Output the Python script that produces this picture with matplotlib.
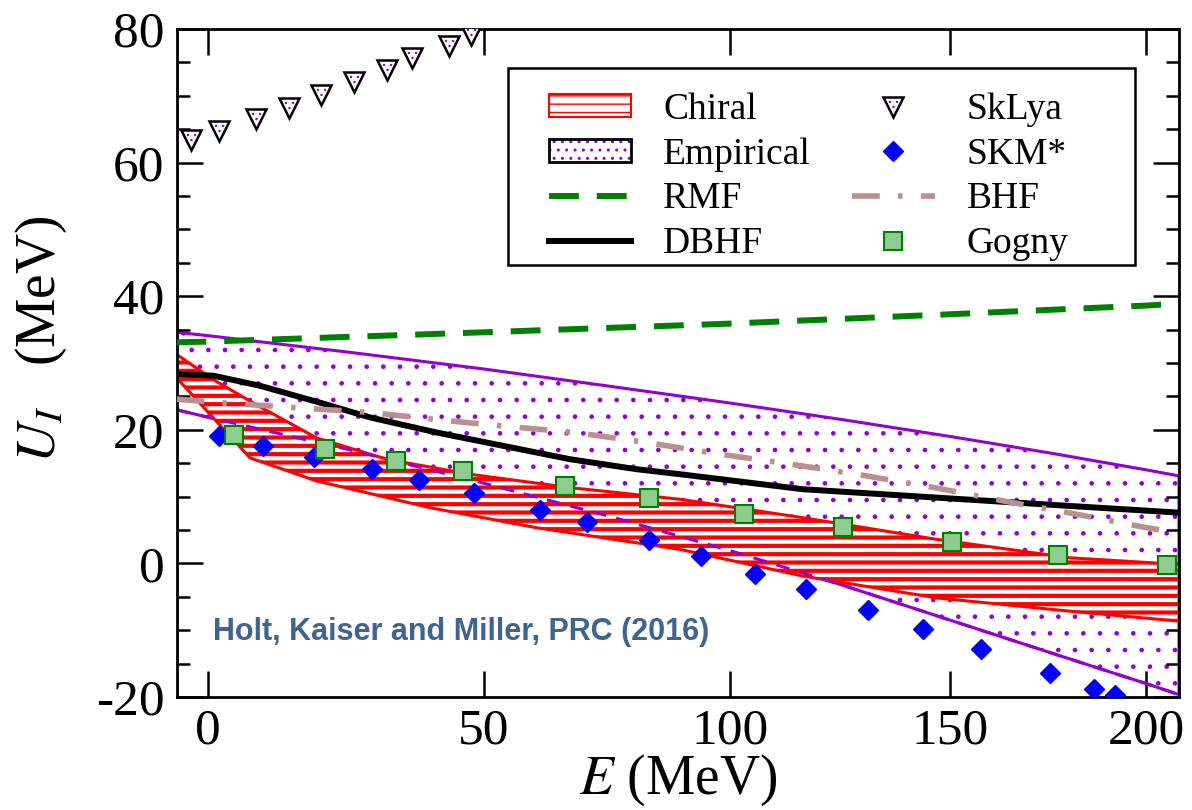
import numpy as np
import matplotlib
matplotlib.use('Agg')
import matplotlib.pyplot as plt
from matplotlib.path import Path
from matplotlib.lines import Line2D
from matplotlib.patches import Patch, Rectangle
from matplotlib.ticker import FixedLocator, MultipleLocator, NullLocator

plt.rcParams['font.family'] = ['Liberation Serif', 'DejaVu Serif']
plt.rcParams['mathtext.fontset'] = 'stix'
plt.rcParams['axes.unicode_minus'] = False

# ---- data (E in MeV, U_I in MeV) ----
emp_E = [-5.3, 0, 25, 50, 75, 100, 125, 150, 175, 200, 208.9]
emp_hi = [34.6, 34.1, 31.6, 29.1, 26.5, 24.0, 21.5, 19.0, 16.5, 14.0, 13.1]
emp_lo = [23.0, 21.9, 17.0, 12.0, 7.0, 1.9, -3.3, -8.5, -13.4, -18.0, -19.65]

chi_hi_E = [-5.3, 1.0, 7.9, 19.0, 31.7, 47.3, 66.8, 89.3, 115.9, 146.7, 179.8, 208.9]
chi_hi = [31.3, 27.5, 24.0, 18.8, 15.6, 13.35, 11.35, 9.6, 6.84, 3.6, 0.84, -0.15]
chi_lo_E = [-5.3, 7.3, 19.0, 39.8, 60.2, 89.3, 115.9, 146.7, 179.8, 208.9]
chi_lo = [27.8, 15.8, 12.35, 8.34, 5.34, 2.1, -1.9, -5.16, -7.15, -8.65]

rmf_E = [-5.3, 0, 50, 100, 150, 200, 208.9]
rmf_U = [33.1, 33.2, 34.6, 35.9, 37.3, 38.6, 38.9]

dbhf_E = [-5.3, 1.0, 9.0, 19.5, 28.7, 41.0, 53.7, 66.8, 80.3, 89.3, 115.9, 146.7, 179.8, 208.9]
dbhf_U = [28.35, 28.1, 26.6, 24.1, 21.85, 19.6, 17.6, 15.6, 14.1, 13.35, 11.1, 9.85, 8.6, 7.6]

bhf_E = [-5.3, 1.3, 13.8, 28.7, 40.2, 53.1, 67.8, 82.3, 97.3, 112.8, 129.3, 145.8, 163.0, 180.7, 199.6, 203.7]
bhf_U = [24.6, 24.1, 23.4, 22.6, 21.6, 20.6, 19.6, 18.1, 16.4, 14.9, 13.2, 11.4, 9.35, 7.45, 5.4, 5.0]

sklya_E = [-2.9, 2.0, 8.3, 14.1, 19.9, 25.8, 31.8, 36.5, 43.3, 47.5]
sklya_U = [63.4, 64.8, 66.6, 68.1, 70.1, 72.1, 73.9, 75.7, 77.5, 79.1]

skm_E = [1.9, 9.6, 18.6, 29.1, 37.8, 48.1, 60.9, 70.3, 82.9, 93.7, 105.4, 116.6,
         130.7, 143.4, 157.5, 174.8, 186.1, 191.7]
skm_U = [19.1, 17.6, 15.9, 14.1, 12.5, 10.5, 8.0, 6.15, 3.45, 1.1, -1.6, -3.9,
         -7.0, -9.8, -12.75, -16.4, -18.75, -19.65]

gogny_E = [4.5, 20.6, 33.5, 46.1, 65.9, 82.9, 103.0, 124.8, 150.4, 176.7, 205.7]
gogny_U = [19.2, 17.1, 15.3, 13.8, 11.6, 9.75, 7.45, 5.5, 3.25, 1.25, -0.25]

x_ticks = [0, 50, 100, 150, 200]

# the energy axis of the original is compressed towards high E
k = 0.002286
def fwd(e):
    return 1 - np.exp(-k * np.asarray(e, float))
def inv(u):
    return -np.log(np.clip(1 - np.asarray(u, float), 1e-9, None)) / k

purple = '#9400d3'
green = '#008000'
rosy = '#bc8f8f'
gface = '#8fcc8f'

fig = plt.figure(figsize=(11.92, 8.10), dpi=100)
ax = fig.add_axes([0.1485, 0.1395, 0.8406, 0.8247])
ax.set_xscale('function', functions=(fwd, inv))

with plt.rc_context({'hatch.linewidth': 0.9}):
    ax.fill_between(emp_E, emp_lo, emp_hi, facecolor='white', edgecolor=purple,
                    hatch='.', lw=2.2, zorder=1)
    emp_dots = Patch(facecolor='white', edgecolor=purple, hatch='..', lw=0)
with plt.rc_context({'hatch.linewidth': 3.0}):
    ax.fill(np.r_[chi_hi_E, chi_lo_E[::-1]], np.r_[chi_hi, chi_lo[::-1]],
            facecolor='white', edgecolor='red', hatch='--', lw=2.2, zorder=2)
    chi_patch = Patch(facecolor='white', edgecolor='red', hatch='--', lw=1.5)
ax.plot(emp_E, emp_lo, color=purple, lw=2.2, dashes=(4.5, 3.3), zorder=2.5)

ax.plot(rmf_E, rmf_U, color=green, lw=4.3, dashes=(5, 3), zorder=3)
ax.plot(dbhf_E, dbhf_U, color='black', lw=4.3, zorder=3)
ax.plot(bhf_E, bhf_U, color=rosy, lw=4.0, dashes=(5, 3.3, 0.8, 3.3), zorder=3)

# triangle with three small dots inside
dots = Path.make_compound_path(
    Path([(-1, -1), (1, 1)], [Path.MOVETO, Path.MOVETO]),
    *[Path.circle(c, 0.12) for c in [(-0.35, 0.55), (0.35, 0.55), (0.0, 0.05)]])

ax.plot(sklya_E, sklya_U, ls='none', marker='v', ms=14.5, mfc='white', mec='black',
        mew=1.8, zorder=4)
ax.plot(sklya_E, sklya_U, ls='none', marker=dots, ms=14.5, mfc=purple, mec='none',
        zorder=4.1)
ax.plot(skm_E, skm_U, ls='none', marker='D', ms=10.5, color='blue', zorder=4)
ax.plot(gogny_E, gogny_U, ls='none', marker='s', ms=13, mfc=gface, mec=green,
        mew=1.5, zorder=4)

ax.text(0.036, 0.085, 'Holt, Kaiser and Miller, PRC (2016)', transform=ax.transAxes,
        family='Liberation Sans', weight='bold', fontsize=22, color='#3d6493',
        va='baseline', ha='left', zorder=5)

ax.set_xlim(-5.2, 208.9)
ax.set_ylim(-20, 80)
ax.xaxis.set_major_locator(FixedLocator(x_ticks))
ax.xaxis.set_minor_locator(NullLocator())
ax.yaxis.set_major_locator(MultipleLocator(20))
ax.yaxis.set_minor_locator(MultipleLocator(5))
ax.tick_params(which='both', direction='in', top=True, right=True, width=1.8)
ax.tick_params(which='major', length=19, labelsize=37)
ax.tick_params(axis='y', which='major', pad=9)
ax.tick_params(axis='x', which='major', pad=8)
ax.tick_params(which='minor', length=9.5)
for s in ax.spines.values():
    s.set_linewidth(2.0)

ax.set_xlabel(r'$E$ (MeV)', fontsize=40)
ax.xaxis.set_label_coords(0.5, -0.083)
ax.set_ylabel(r'$U_I$   (MeV)', fontsize=40)
ax.yaxis.set_label_coords(-0.108, 0.535)

# legend
ax.add_patch(Rectangle((0.330, 0.647), 0.626, 0.295, transform=ax.transAxes,
                       facecolor='white', edgecolor='black', lw=1.8, zorder=4.8))
handles = [
    chi_patch,
    (emp_dots, Patch(facecolor='none', edgecolor='black', lw=2)),
    Line2D([], [], color=green, lw=4.3, dashes=(5, 3)),
    Line2D([], [], color='black', lw=4.3),
    (Line2D([], [], ls='none', marker='v', ms=14.5, mfc='white', mec='black', mew=1.8),
     Line2D([], [], ls='none', marker=dots, ms=14.5, mfc=purple, mec='none')),
    Line2D([], [], ls='none', marker='D', ms=10.5, color='blue'),
    Line2D([], [], color=rosy, lw=4.0, dashes=(5, 3.3, 0.8, 3.3)),
    Line2D([], [], ls='none', marker='s', ms=13, mfc=gface, mec=green, mew=1.5),
]
labels = ['Chiral', 'Empirical', 'RMF', 'DBHF', 'SkLya', 'SKM*', 'BHF', 'Gogny']
leg = ax.legend(handles, labels, ncol=2, loc='upper left', bbox_to_anchor=(0.371, 0.905),
                fontsize=27, frameon=False, handlelength=2.2, handleheight=0.55,
                handletextpad=0.85, labelspacing=0.27, columnspacing=1.1,
                borderpad=0, borderaxespad=0, numpoints=1)
leg.set_zorder(5)

fig.savefig('out.png', dpi=100)
